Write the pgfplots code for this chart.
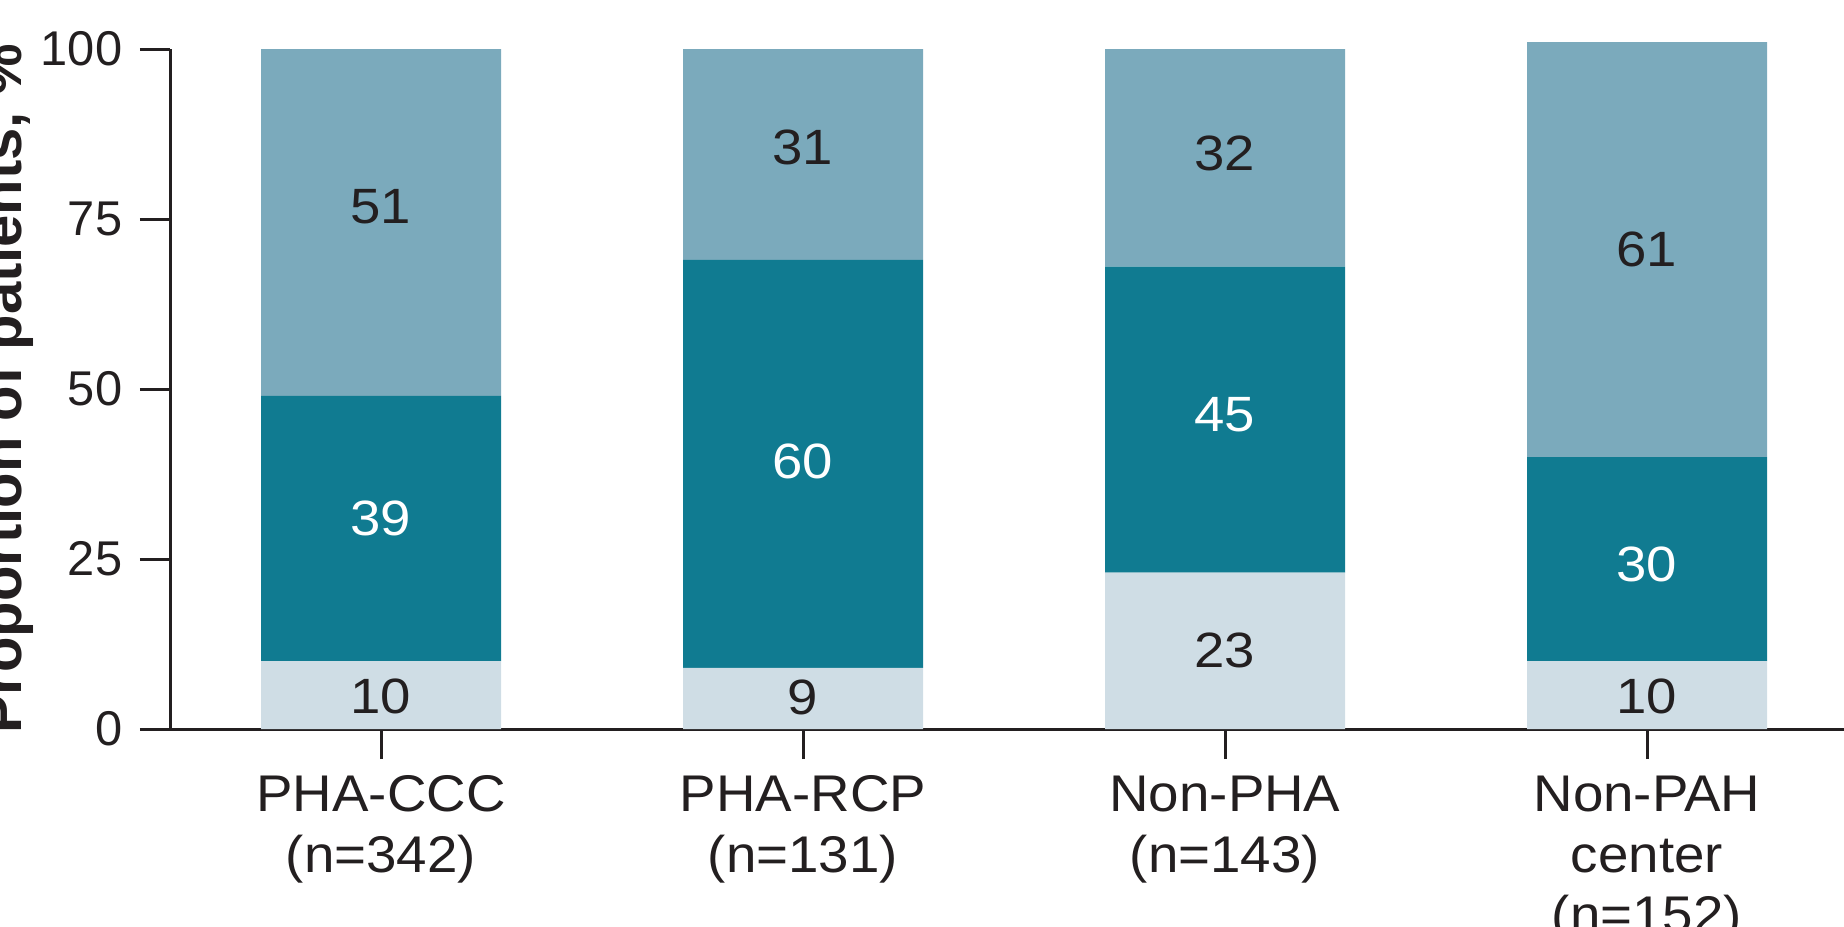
\documentclass[border=0pt]{standalone}
\usepackage{pgfplots}
\pgfplotsset{compat=1.18}
\usepackage{fontspec}
\setmainfont{Liberation Sans}
\newfontfamily\widefont[FakeStretch=1.1]{Liberation Sans}
\newfontfamily\catfont[FakeStretch=1.06]{Liberation Sans}

\definecolor{topblue}{RGB}{123,170,188}
\definecolor{midteal}{RGB}{16,123,145}
\definecolor{lowblue}{RGB}{207,221,229}
\definecolor{ink}{RGB}{35,31,32}

% shared geometry of the bar axis and the label layer
\pgfplotsset{panel/.style={
  at={(42.5pt,49.25pt)}, anchor=south west,
  scale only axis, width=432.55pt, height=170pt,
  xmin=-0.5, xmax=3.6, ymin=0, ymax=100, clip=false}}

\begin{document}
\begin{tikzpicture}
% fixed frame of the figure
\useasboundingbox (0,0) rectangle (461pt,231.5pt);
\clip (0,0) rectangle (461pt,231.5pt);
\begin{axis}[
  panel,
  ybar stacked, bar width=60pt,
  axis x line=bottom, axis y line=left,
  axis line style={-, line width=0.75pt, color=ink},
  tick align=outside, major tick length=7.5pt,
  tick style={line width=0.75pt, color=ink},
  xtick={0,1,2,3},
  xticklabels={{PHA-CCC\\(n=342)},{PHA-RCP\\(n=131)},{Non-PHA\\(n=143)},{Non-PAH\\center\\(n=152)}},
  xticklabel style={align=center, anchor=north, inner sep=0pt, text=ink, yshift=-4pt,
    font=\catfont\fontsize{12.9}{15.2}\selectfont},
  ytick={0,25,50,75,100},
  yticklabel style={anchor=east, inner sep=0pt, text=ink, xshift=-4.25pt,
    font=\fontsize{12.2}{14}\selectfont},
  /pgf/number format/assume math mode=true,
  ylabel={Proportion of patients, \%},
  ylabel style={at={(axis description cs:-0.0861,0.5)}, anchor=base, text=ink,
    font=\fontsize{14.5}{17}\selectfont\bfseries},
]
% lowest segment
\addplot[fill=lowblue, draw=none] coordinates {(0,10) (1,9) (2,23) (3,10)};
% middle segment
\addplot[fill=midteal, draw=none] coordinates {(0,39) (1,60) (2,45) (3,30)};
% upper segment
\addplot[fill=topblue, draw=none] coordinates {(0,51) (1,31) (2,32) (3,61)};
\end{axis}

% value labels inside the segments
\begin{axis}[
  panel, hide axis,
  nodes near coords, point meta=explicit symbolic,
  every node near coord/.style={anchor=center, inner sep=0pt,
    font=\widefont\fontsize{12.4}{14}\selectfont},
]
\addplot[only marks, mark=none, nodes near coords style={text=ink}]
  coordinates {(0,4.75) [10] (0,76.8) [51]
               (1,4.6) [9] (1,85.6) [31]
               (2,11.6) [23] (2,84.7) [32]
               (3,4.75) [10] (3,70.5) [61]};
\addplot[only marks, mark=none, nodes near coords style={text=white}]
  coordinates {(0,30.9) [39] (1,39.4) [60] (2,46.2) [45] (3,24.2) [30]};
\end{axis}
\end{tikzpicture}
\end{document}
